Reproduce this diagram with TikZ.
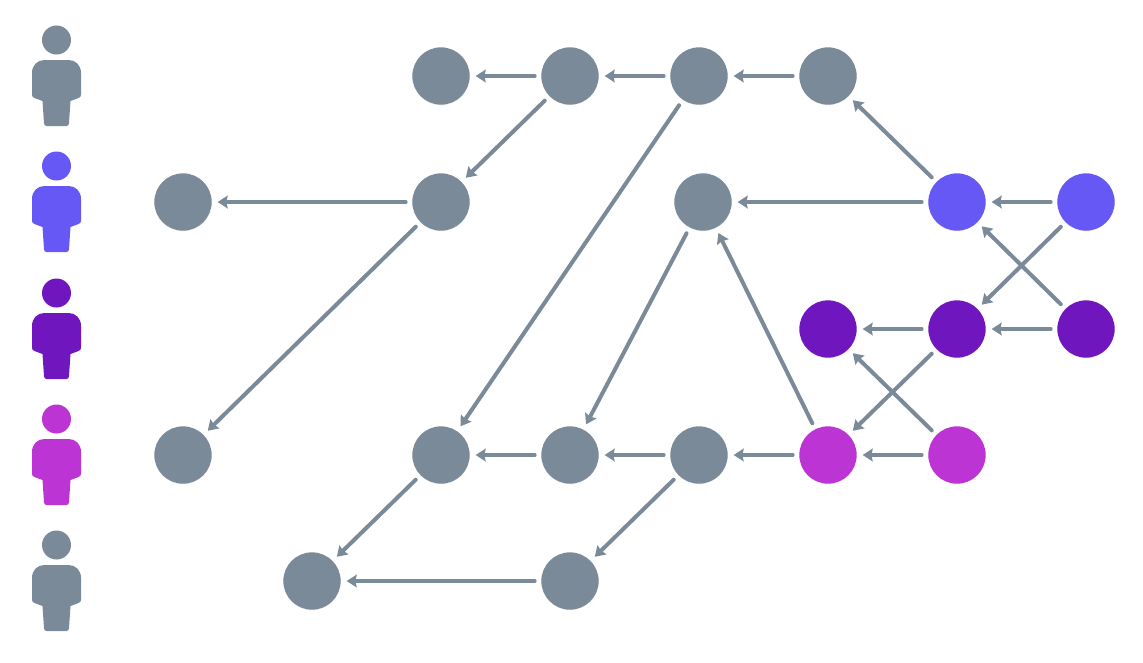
\documentclass[tikz,border=0pt]{standalone}
\usepackage{xcolor}
\usetikzlibrary{arrows.meta, shadows}
\definecolor{slate}{RGB}{122,138,153}
\definecolor{iris}{RGB}{101,88,245}
\definecolor{grape}{RGB}{112,22,191}
\definecolor{orchid}{RGB}{188,52,212}
\tikzstyle{arrow} = [line width=3pt,line cap=round,slate,-{Stealth[length=7.5pt,width=9.5pt,inset=1pt]},shorten >=4.5pt,shorten <=5pt]
\tikzset{
  commit/.style={circle, fill=#1, minimum size=43pt, inner sep=0pt, outer sep=0pt,
    drop shadow={shadow xshift=0pt, shadow yshift=-0.5pt, opacity=0.12}},
  person/.pic={
    \fill[#1] (0,0) circle (14.5);
    \fill[#1] (-24.5,33) .. controls (-24.5,25) and (-19,20) .. (-12,20)
      -- (12,20) .. controls (19,20) and (24.5,25) .. (24.5,33)
      -- (24.5,55) .. controls (24.5,56.5) and (23.5,57.5) .. (22,58) -- (14,61)
      -- (12.5,83) .. controls (12.5,85) and (11.5,86) .. (10,86) -- (-10,86)
      .. controls (-11.5,86) and (-12.5,85) .. (-12.5,83) -- (-14,61)
      -- (-22,58) .. controls (-23.5,57.5) and (-24.5,56.5) .. (-24.5,55) -- cycle;
  }
}
\begin{document}
\begin{tikzpicture}[x=0.75pt,y=-0.75pt]
  \useasboundingbox (0,0) rectangle (1143,662);
  % people
  \pic at (56.5,40) {person=slate};
  \pic at (56.5,166) {person=iris};
  \pic at (56.5,293) {person=grape};
  \pic at (56.5,419) {person=orchid};
  \pic at (56.5,545) {person=slate};
  % commits
  \node[commit=slate] (a1) at (441,76) {};
  \node[commit=slate] (a2) at (570,76) {};
  \node[commit=slate] (a3) at (699,76) {};
  \node[commit=slate] (a4) at (828,76) {};
  \node[commit=slate] (b0) at (183,202) {};
  \node[commit=slate] (b1) at (441,202) {};
  \node[commit=slate] (b2) at (703,202) {};
  \node[commit=iris] (b3) at (957,202) {};
  \node[commit=iris] (b4) at (1086,202) {};
  \node[commit=grape] (c1) at (828,329) {};
  \node[commit=grape] (c2) at (957,329) {};
  \node[commit=grape] (c3) at (1086,329) {};
  \node[commit=slate] (d0) at (183,455) {};
  \node[commit=slate] (d1) at (441,455) {};
  \node[commit=slate] (d2) at (570,455) {};
  \node[commit=slate] (d3) at (699,455) {};
  \node[commit=orchid] (d4) at (828,455) {};
  \node[commit=orchid] (d5) at (957,455) {};
  \node[commit=slate] (e1) at (312,581) {};
  \node[commit=slate] (e2) at (570,581) {};
  % links
  \foreach \from/\to in {a2/a1, a3/a2, a4/a3, a2/b1, b1/b0, b1/d0, a3/d1, b3/a4, b3/b2, b4/b3,
      b4/c2, c3/b3, c3/c2, c2/c1, c2/d4, d5/c1, d5/d4, d4/d3, d3/d2, d2/d1, d4/b2, b2/d2,
      d1/e1, d3/e2, e2/e1}
    \draw[arrow] (\from) -- (\to);
\end{tikzpicture}
\end{document}
